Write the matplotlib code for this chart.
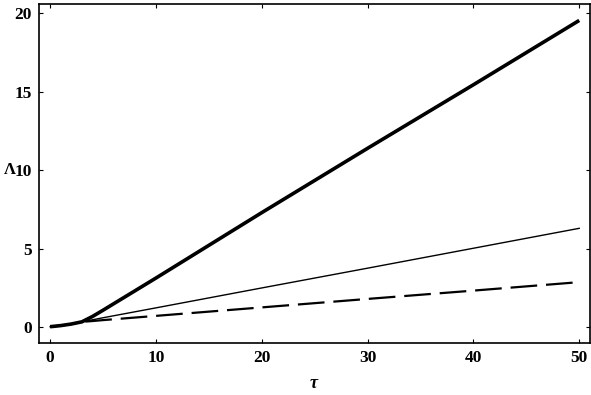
import matplotlib.pyplot as plt

# data
tau = [0, 1, 2, 3, 4, 5, 10, 20, 30, 40, 50]
lam_thick = [0.03, 0.1, 0.2, 0.34, 0.68, 1.08, 3.13, 7.3, 11.4, 15.45, 19.55]
lam_thin = [0.03, 0.1, 0.2, 0.34, 0.47, 0.6, 1.23, 2.5, 3.76, 5.03, 6.3]
lam_dashed = [0.03, 0.1, 0.2, 0.34, 0.39, 0.45, 0.72, 1.26, 1.8, 2.33, 2.87]

xticks = [0, 10, 20, 30, 40, 50]
yticks = [0, 5, 10, 15, 20]

plt.rcParams['font.family'] = ['Liberation Serif', 'DejaVu Serif']
plt.rcParams['font.weight'] = 'bold'

fig = plt.figure(figsize=(5.91, 3.95), dpi=100)
ax = fig.add_axes([0.066, 0.132, 0.932, 0.858])

ax.plot(tau, lam_thick, color='black', lw=2.6, solid_capstyle='butt')
ax.plot(tau, lam_thin, color='black', lw=1.0)
ax.plot(tau, lam_dashed, color='black', lw=1.6, dashes=(12, 4))

ax.set_xlim(-1.05, 51)
ax.set_ylim(-1.0, 20.6)
ax.set_xticks(xticks)
ax.set_yticks(yticks)
ax.tick_params(direction='in', length=3, width=0.8, top=True, right=True,
               labelsize=12.5, pad=5)
for s in ax.spines.values():
    s.set_linewidth(1.2)

ax.set_xlabel('τ', fontsize=13, fontstyle='italic', fontweight='bold',
              va='center', ha='center')
ax.xaxis.set_label_coords(0.499, -0.12)
ax.set_ylabel('Λ', fontsize=12, rotation=0, fontweight='bold',
              va='center', ha='center')
ax.yaxis.set_label_coords(-0.053, 0.51)

fig.savefig('out.png', dpi=100)
